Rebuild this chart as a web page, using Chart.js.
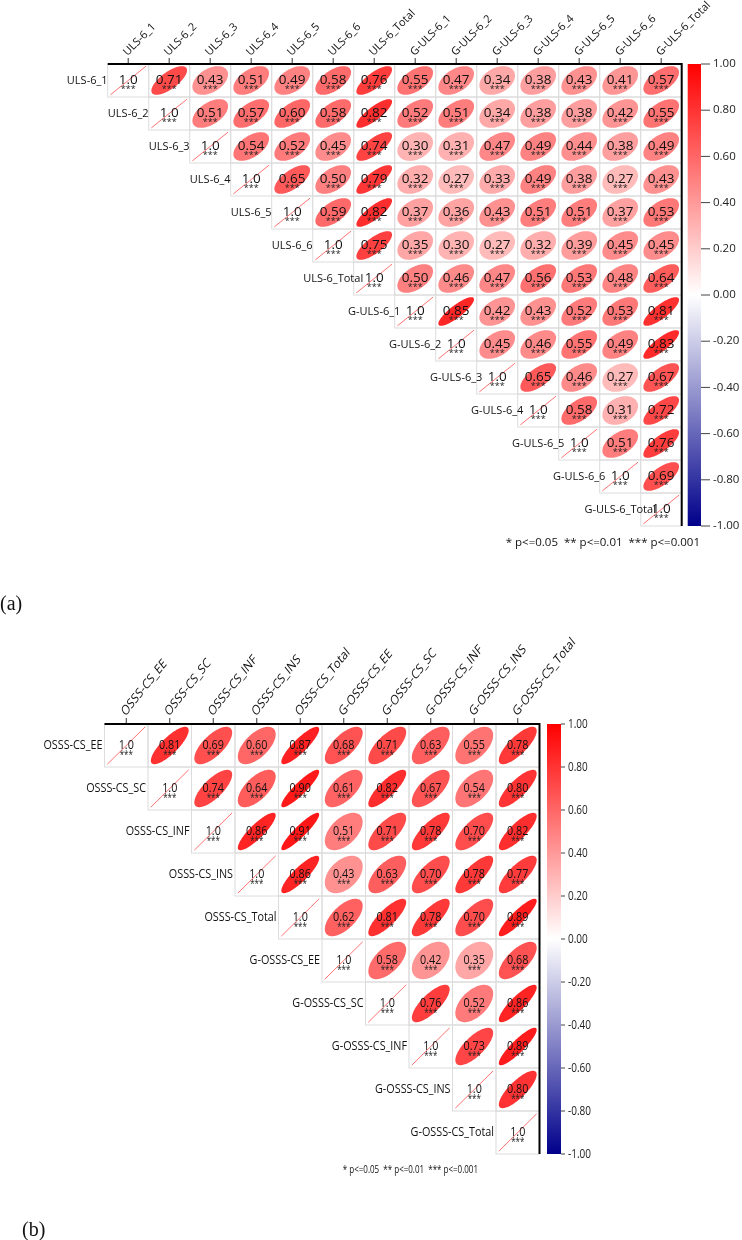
<!DOCTYPE html>
<html>
<head>
<meta charset="utf-8">
<script src="https://cdn.jsdelivr.net/npm/chart.js@4.4.0/dist/chart.umd.min.js"></script>
<style>
  body { margin: 0; background: #fff; }
  .wrap { position: relative; width: 742px; height: 1240px; overflow: hidden; }
  canvas { position: absolute; left: 0; }
  .tag { position: absolute; font-family: "Liberation Serif", serif; font-size: 20px; color: #111; }
</style>
</head>
<body>
<div class="wrap">
  <canvas id="uls-chart" width="742" height="620" style="top:0"></canvas>
  <canvas id="osss-chart" width="742" height="620" style="top:620px"></canvas>
  <div class="tag" style="left:0; top:592px">(a)</div>
  <div class="tag" style="left:22px; top:1218px">(b)</div>
</div>
<script>
//variables (a)
const ulsLabels = ["ULS-6_1", "ULS-6_2", "ULS-6_3", "ULS-6_4", "ULS-6_5", "ULS-6_6", "ULS-6_Total",
  "G-ULS-6_1", "G-ULS-6_2", "G-ULS-6_3", "G-ULS-6_4", "G-ULS-6_5", "G-ULS-6_6", "G-ULS-6_Total"];
//upper triangle, each row starts at the diagonal
const ulsRows = [
  [1.0, 0.71, 0.43, 0.51, 0.49, 0.58, 0.76, 0.55, 0.47, 0.34, 0.38, 0.43, 0.41, 0.57],
  [1.0, 0.51, 0.57, 0.60, 0.58, 0.82, 0.52, 0.51, 0.34, 0.38, 0.38, 0.42, 0.55],
  [1.0, 0.54, 0.52, 0.45, 0.74, 0.30, 0.31, 0.47, 0.49, 0.44, 0.38, 0.49],
  [1.0, 0.65, 0.50, 0.79, 0.32, 0.27, 0.33, 0.49, 0.38, 0.27, 0.43],
  [1.0, 0.59, 0.82, 0.37, 0.36, 0.43, 0.51, 0.51, 0.37, 0.53],
  [1.0, 0.75, 0.35, 0.30, 0.27, 0.32, 0.39, 0.45, 0.45],
  [1.0, 0.50, 0.46, 0.47, 0.56, 0.53, 0.48, 0.64],
  [1.0, 0.85, 0.42, 0.43, 0.52, 0.53, 0.81],
  [1.0, 0.45, 0.46, 0.55, 0.49, 0.83],
  [1.0, 0.65, 0.46, 0.27, 0.67],
  [1.0, 0.58, 0.31, 0.72],
  [1.0, 0.51, 0.76],
  [1.0, 0.69],
  [1.0]
];

//variables (b)
const osssLabels = ["OSSS-CS_EE", "OSSS-CS_SC", "OSSS-CS_INF", "OSSS-CS_INS", "OSSS-CS_Total",
  "G-OSSS-CS_EE", "G-OSSS-CS_SC", "G-OSSS-CS_INF", "G-OSSS-CS_INS", "G-OSSS-CS_Total"];
const osssRows = [
  [1.0, 0.81, 0.69, 0.60, 0.87, 0.68, 0.71, 0.63, 0.55, 0.78],
  [1.0, 0.74, 0.64, 0.90, 0.61, 0.82, 0.67, 0.54, 0.80],
  [1.0, 0.86, 0.91, 0.51, 0.71, 0.78, 0.70, 0.82],
  [1.0, 0.86, 0.43, 0.63, 0.70, 0.78, 0.77],
  [1.0, 0.62, 0.81, 0.78, 0.70, 0.89],
  [1.0, 0.58, 0.42, 0.35, 0.68],
  [1.0, 0.76, 0.52, 0.86],
  [1.0, 0.73, 0.89],
  [1.0, 0.80],
  [1.0]
];

//shared bits
const colorTicks = [1.0, 0.8, 0.6, 0.4, 0.2, 0.0, -0.2, -0.4, -0.6, -0.8, -1.0];
const sigStars = "***";
const sigNote = "* p<=0.05  ** p<=0.01  *** p<=0.001";

//matrix cells -> scatter points (x = column, y = row)
function toPoints(rows) {
  const pts = [];
  rows.forEach((row, i) => {
    row.forEach((v, k) => pts.push({ x: i + k + 1, y: i + 1, v: v }));
  });
  return pts;
}

//white -> red for positive, white -> navy for negative
function corrColor(r) {
  if (r >= 0) {
    const c = Math.round(255 * (1 - r));
    return `rgb(255,${c},${c})`;
  }
  const t = -r;
  return `rgb(${Math.round(255 * (1 - t))},${Math.round(255 * (1 - t))},${Math.round(255 - 116 * t)})`;
}

//text squeezed sideways (panel b is a narrowed image)
function squeezeText(ctx, txt, x, y, sx, angle) {
  ctx.save();
  ctx.translate(x, y);
  ctx.scale(sx, 1);
  if (angle) ctx.rotate(-angle * Math.PI / 180);
  ctx.fillText(txt, 0, 0);
  ctx.restore();
}

const corrPlugin = {
  id: 'corr',
  afterDraw(chart, args, o) {
    const ctx = chart.ctx;
    const xs = chart.scales.x;
    const ys = chart.scales.y;
    const area = chart.chartArea;
    const sx = o.sx;
    const cw = xs.getPixelForValue(2) - xs.getPixelForValue(1);
    const ch = ys.getPixelForValue(2) - ys.getPixelForValue(1);
    const meta = chart.getDatasetMeta(0);
    const pts = chart.data.datasets[0].data;
    ctx.save();

    //cell borders
    ctx.strokeStyle = '#dcdcdc';
    ctx.lineWidth = 1;
    meta.data.forEach(el => {
      ctx.strokeRect(el.x - cw / 2, el.y - ch / 2, cw, ch);
    });

    //ellipses
    meta.data.forEach((el, i) => {
      const r = pts[i].v;
      const rx = 0.435 * cw, ry = 0.435 * ch;
      if (r >= 0.999) {
        ctx.strokeStyle = 'rgba(255,70,70,0.85)';
        ctx.lineWidth = 0.9;
        ctx.beginPath();
        ctx.moveTo(el.x - rx, el.y + ry);
        ctx.lineTo(el.x + rx, el.y - ry);
        ctx.stroke();
        return;
      }
      const d = Math.acos(r);
      ctx.fillStyle = corrColor(r);
      ctx.beginPath();
      for (let a = 0; a <= 2 * Math.PI + 0.01; a += Math.PI / 60) {
        const px = el.x + rx * Math.cos(a + d / 2);
        const py = el.y - ry * Math.cos(a - d / 2);
        if (a === 0) ctx.moveTo(px, py); else ctx.lineTo(px, py);
      }
      ctx.closePath();
      ctx.fill();
    });

    //numbers + stars
    ctx.textAlign = 'center';
    ctx.textBaseline = 'middle';
    meta.data.forEach((el, i) => {
      const r = pts[i].v;
      ctx.fillStyle = '#111';
      ctx.font = o.valueFont;
      squeezeText(ctx, r >= 0.999 ? '1.0' : r.toFixed(2), el.x, el.y - 0.5, sx);
      ctx.fillStyle = '#222';
      ctx.font = o.starFont;
      squeezeText(ctx, sigStars, el.x, el.y + o.starOffset, sx);
    });

    //row labels next to the diagonal
    ctx.fillStyle = '#111';
    ctx.font = o.labelFont;
    o.labels.forEach((lab, i) => {
      const y = ys.getPixelForValue(i + 1);
      if (o.rowAlign === 'right') {
        ctx.textAlign = 'right';
        squeezeText(ctx, lab, xs.getPixelForValue(i + 0.5) - 2, y, sx);
      } else {
        ctx.textAlign = 'center';
        squeezeText(ctx, lab, xs.getPixelForValue(i), y, sx);
      }
    });

    //top ticks + rotated column labels
    ctx.strokeStyle = '#333';
    ctx.lineWidth = 1;
    ctx.textAlign = 'left';
    o.labels.forEach((lab, j) => {
      const x = xs.getPixelForValue(j + 1);
      ctx.beginPath();
      ctx.moveTo(x, area.top - 6);
      ctx.lineTo(x, area.top);
      ctx.stroke();
      squeezeText(ctx, lab, x - 3, area.top - 10, sx, 45);
    });

    //black frame top + right
    ctx.strokeStyle = '#000';
    ctx.lineWidth = 2;
    ctx.beginPath();
    ctx.moveTo(area.left, area.top);
    ctx.lineTo(area.right, area.top);
    ctx.lineTo(area.right, area.bottom);
    ctx.stroke();

    //colour bar
    const cbx = area.right + o.cbGap;
    const grad = ctx.createLinearGradient(0, area.top, 0, area.bottom);
    grad.addColorStop(0, corrColor(1));
    grad.addColorStop(0.25, corrColor(0.5));
    grad.addColorStop(0.5, corrColor(0));
    grad.addColorStop(0.75, corrColor(-0.5));
    grad.addColorStop(1, corrColor(-1));
    ctx.fillStyle = grad;
    ctx.fillRect(cbx, area.top, o.cbWidth, area.bottom - area.top);
    ctx.strokeStyle = '#444';
    ctx.lineWidth = 1;
    ctx.font = o.cbFont;
    ctx.fillStyle = '#222';
    ctx.textAlign = 'left';
    colorTicks.forEach(t => {
      const y = area.top + (1 - t) / 2 * (area.bottom - area.top);
      ctx.beginPath();
      ctx.moveTo(cbx + o.cbWidth, y);
      ctx.lineTo(cbx + o.cbWidth + o.cbTick, y);
      ctx.stroke();
      squeezeText(ctx, t.toFixed(2), cbx + o.cbWidth + o.cbTick + 3, y, sx);
    });

    //significance note
    ctx.font = o.noteFont;
    ctx.textAlign = 'right';
    ctx.fillStyle = '#111';
    squeezeText(ctx, sigNote, o.noteRight, area.bottom + o.noteDrop, sx);
    ctx.restore();
  }
};

function corrChart(canvasId, labels, rows, pad, style) {
  const n = labels.length;
  return new Chart(document.getElementById(canvasId), {
    type: 'scatter',
    data: {
      datasets: [{
        data: toPoints(rows),
        pointRadius: 0,
        pointHoverRadius: 0
      }]
    },
    options: {
      responsive: false,
      animation: false,
      events: [],
      layout: { padding: pad },
      scales: {
        x: { type: 'linear', min: 0.5, max: n + 0.5, display: false },
        y: { type: 'linear', min: 0.5, max: n + 0.5, reverse: true, display: false }
      },
      plugins: {
        legend: { display: false },
        tooltip: { enabled: false },
        corr: Object.assign({ labels: labels }, style)
      }
    },
    plugins: [corrPlugin]
  });
}

//(a) ULS-6
corrChart('uls-chart', ulsLabels, ulsRows,
  { left: 107.7, right: 60.3, top: 64, bottom: 94 },
  {
    sx: 1,
    valueFont: '13.5px "Open Sans"', starFont: '9px "Open Sans"', starOffset: 9,
    labelFont: '11px "Open Sans"', rowAlign: 'center',
    cbGap: 6, cbWidth: 13.3, cbTick: 9, cbFont: '11.5px "Open Sans"',
    noteFont: '11.5px "Open Sans"', noteRight: 700, noteDrop: 17
  });

//(b) OSSS-CS
corrChart('osss-chart', osssLabels, osssRows,
  { left: 104.5, right: 202.5, top: 104, bottom: 86 },
  {
    sx: 0.8,
    valueFont: '13.5px "Open Sans"', starFont: '10px "Open Sans"', starOffset: 10,
    labelFont: '13.5px "Open Sans"', rowAlign: 'right',
    cbGap: 7.5, cbWidth: 14, cbTick: 4, cbFont: '12.5px "Open Sans"',
    noteFont: '10px "Open Sans"', noteRight: 478, noteDrop: 16
  });
</script>
</body>
</html>
